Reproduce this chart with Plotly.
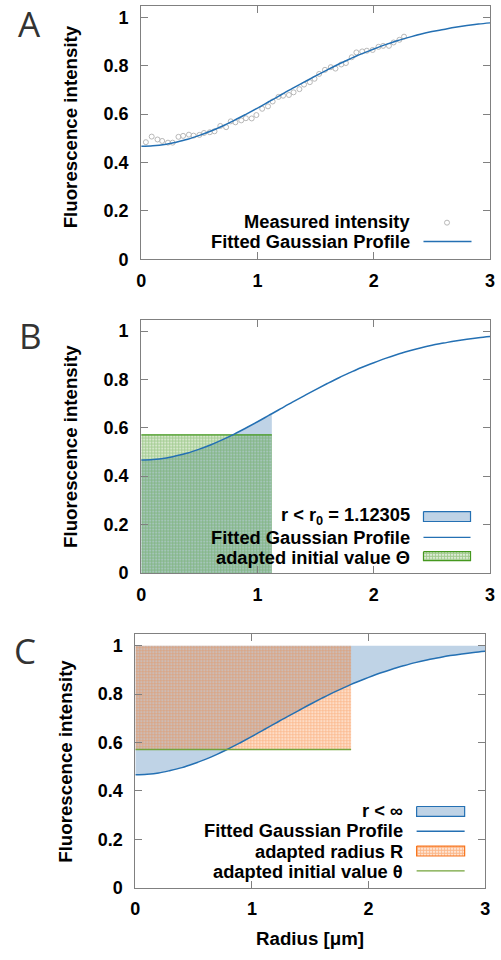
import plotly.graph_objects as go

# ---------------- data ----------------
radius = [0.0, 0.1, 0.2, 0.3, 0.4, 0.5, 0.6, 0.7, 0.8, 0.9, 1.0, 1.1, 1.12305,
          1.2, 1.3, 1.4, 1.5, 1.6, 1.7, 1.8, 1.85, 1.9, 2.0, 2.1, 2.2, 2.3,
          2.4, 2.5, 2.6, 2.7, 2.8, 2.9, 3.0]
fitted = [0.467, 0.469, 0.474, 0.484, 0.496, 0.512, 0.530, 0.551, 0.574, 0.599,
          0.625, 0.652, 0.658, 0.679, 0.706, 0.732, 0.758, 0.783, 0.807, 0.829,
          0.840, 0.850, 0.869, 0.887, 0.903, 0.917, 0.930, 0.941, 0.950, 0.959,
          0.966, 0.972, 0.977]

meas_r = [0.04, 0.09, 0.14, 0.18, 0.23, 0.27, 0.32, 0.36, 0.41, 0.45,
          0.50, 0.54, 0.59, 0.63, 0.68, 0.73, 0.77, 0.81, 0.86, 0.90,
          0.95, 0.99, 1.04, 1.09, 1.13, 1.18, 1.22, 1.27, 1.31, 1.36,
          1.40, 1.45, 1.49, 1.53, 1.58, 1.63, 1.67, 1.72, 1.76, 1.81,
          1.85, 1.90, 1.94, 1.99, 2.04, 2.08, 2.13, 2.17, 2.22, 2.26]
meas_i = [0.484, 0.507, 0.495, 0.489, 0.482, 0.482, 0.506, 0.510, 0.515, 0.511,
          0.514, 0.522, 0.525, 0.529, 0.551, 0.546, 0.570, 0.566, 0.574, 0.583,
          0.582, 0.596, 0.622, 0.632, 0.652, 0.671, 0.676, 0.679, 0.690, 0.703,
          0.722, 0.732, 0.746, 0.766, 0.783, 0.794, 0.788, 0.805, 0.811, 0.835,
          0.855, 0.859, 0.862, 0.865, 0.878, 0.882, 0.882, 0.896, 0.907, 0.920]

r0 = 1.12305          # integration limit in panel B
theta = 0.571         # adapted initial value
R_adapt = 1.85        # adapted radius in panel C

x_ticks = [0, 1, 2, 3]
y_ticks = [0, 0.2, 0.4, 0.6, 0.8, 1]

# ---------------- styles ----------------
W, H = 501, 960
BLUE = "#2470b3"
BLUE_FILL = "#bfd3e6"
GREEN = "#45981f"
GREEN_LINE = "#73a33a"
ORANGE = "#f7741c"
GRAY = "#808080"
FONT = "Liberation Sans"
PAT = dict(shape=".", size=3, solidity=0.72)


def px(x):
    return x / W


def py(y):
    return 1 - y / H


def pattern(color):
    return dict(PAT, fgcolor=color, bgcolor="rgba(0,0,0,0)")


fig = go.Figure()

# panel geometry in pixels: (left, right, top, bottom)
panels = {
    1: (139, 495, 6, 262),
    2: (139, 495, 323, 579),
    3: (133, 490, 641, 897),
}

# ---------------- Panel A ----------------
fig.add_trace(go.Scatter(x=meas_r, y=meas_i, mode="markers",
                         marker=dict(symbol="circle-open", size=5,
                                     color="#b8b8b8", line=dict(width=1)),
                         xaxis="x", yaxis="y", showlegend=False))
fig.add_trace(go.Scatter(x=radius, y=fitted, mode="lines",
                         line=dict(color=BLUE, width=1.5, shape="spline"),
                         xaxis="x", yaxis="y", showlegend=False))

# ---------------- Panel B ----------------
rb = [r for r in radius if r <= r0]
fb = fitted[:len(rb)]
fig.add_trace(go.Scatter(x=rb, y=fb, mode="lines", fill="tozeroy",
                         fillcolor=BLUE_FILL, line=dict(width=0),
                         xaxis="x2", yaxis="y2", showlegend=False))
fig.add_trace(go.Scatter(x=[0, 0, r0, r0], y=[0, theta, theta, 0],
                         mode="lines", fill="toself", line=dict(width=0),
                         fillcolor="rgba(0,0,0,0)", fillpattern=pattern(GREEN),
                         xaxis="x2", yaxis="y2", showlegend=False))
fig.add_trace(go.Scatter(x=[0, r0], y=[theta, theta], mode="lines",
                         line=dict(color=GREEN, width=1.2),
                         xaxis="x2", yaxis="y2", showlegend=False))
fig.add_trace(go.Scatter(x=radius, y=fitted, mode="lines",
                         line=dict(color=BLUE, width=1.5, shape="spline"),
                         xaxis="x2", yaxis="y2", showlegend=False))

# ---------------- Panel C ----------------
fig.add_trace(go.Scatter(x=radius + radius[::-1],
                         y=fitted + [1.0] * len(radius),
                         mode="lines", fill="toself", fillcolor=BLUE_FILL,
                         line=dict(width=0), xaxis="x3", yaxis="y3",
                         showlegend=False))
fig.add_trace(go.Scatter(x=[0, 0, R_adapt, R_adapt], y=[theta, 1, 1, theta],
                         mode="lines", fill="toself", line=dict(width=0),
                         fillcolor="rgba(0,0,0,0)", fillpattern=pattern(ORANGE),
                         xaxis="x3", yaxis="y3", showlegend=False))
fig.add_trace(go.Scatter(x=radius, y=fitted, mode="lines",
                         line=dict(color=BLUE, width=1.5, shape="spline"),
                         xaxis="x3", yaxis="y3", showlegend=False))
fig.add_trace(go.Scatter(x=[0, R_adapt], y=[theta, theta], mode="lines",
                         line=dict(color=GREEN_LINE, width=1.4),
                         xaxis="x3", yaxis="y3", showlegend=False))


# ---------------- legend keys (pixel overlay axis) ----------------
def key_box(x0, x1, yc, h, fill, border, pat=None):
    kw = dict(x=[x0, x1, x1, x0, x0],
              y=[yc - h / 2, yc - h / 2, yc + h / 2, yc + h / 2, yc - h / 2],
              mode="lines", fill="toself", line=dict(color=border, width=1.2),
              xaxis="x4", yaxis="y4", showlegend=False, hoverinfo="skip")
    if pat:
        kw["fillcolor"] = "rgba(0,0,0,0)"
        kw["fillpattern"] = pattern(pat)
    else:
        kw["fillcolor"] = fill
    fig.add_trace(go.Scatter(**kw))


def key_line(x0, x1, yc, color):
    fig.add_trace(go.Scatter(x=[x0, x1], y=[yc, yc], mode="lines",
                             line=dict(color=color, width=1.4),
                             xaxis="x4", yaxis="y4", showlegend=False,
                             hoverinfo="skip"))


# A
fig.add_trace(go.Scatter(x=[451], y=[225], mode="markers",
                         marker=dict(symbol="circle-open", size=5, color="#b8b8b8",
                                     line=dict(width=1)),
                         xaxis="x4", yaxis="y4", showlegend=False))
key_line(427, 476, 244, BLUE)
# B
key_box(427, 475, 522, 10, BLUE_FILL, BLUE)
key_line(427, 475, 543, BLUE)
key_box(427, 475, 562, 9, None, GREEN, pat=GREEN)
# C
key_box(420, 469, 820, 10, BLUE_FILL, BLUE)
key_line(420, 469, 840, BLUE)
key_box(420, 469, 860, 10, None, ORANGE, pat=ORANGE)
key_line(420, 469, 880, GREEN_LINE)

# ---------------- axes ----------------
tickfont = dict(family=FONT, size=18, color="black", weight="bold")
for i, (l, r, t, b) in panels.items():
    sx = "" if i == 1 else str(i)
    fig.update_layout(**{
        "xaxis" + sx: dict(domain=[px(l), px(r)], range=[0, 3], anchor="y" + sx,
                           showline=True, linecolor=GRAY, linewidth=1, mirror="ticks",
                           ticks="inside", ticklen=7, tickcolor=GRAY, tickwidth=1,
                           showgrid=False, zeroline=False, tickvals=x_ticks,
                           tickfont=tickfont, ticklabelstandoff=5, fixedrange=True),
        "yaxis" + sx: dict(domain=[py(b), py(t)], range=[0, 1.047], anchor="x" + sx,
                           showline=True, linecolor=GRAY, linewidth=1, mirror="ticks",
                           ticks="inside", ticklen=7, tickcolor=GRAY, tickwidth=1,
                           showgrid=False, zeroline=False, tickvals=y_ticks,
                           tickfont=tickfont, ticklabelstandoff=8, fixedrange=True),
    })

fig.update_layout(
    xaxis4=dict(domain=[0, 1], range=[0, W], visible=False, anchor="y4", fixedrange=True),
    yaxis4=dict(domain=[0, 1], range=[H, 0], visible=False, anchor="x4", fixedrange=True),
)

# ---------------- texts ----------------
ann = []
TS = 18.3


def text(x, y, s, size=TS, anchor="right", angle=0, family=FONT, weight="bold",
         color="black"):
    ann.append(dict(x=px(x), y=py(y), xref="paper", yref="paper", text=s,
                    showarrow=False, xanchor=anchor, yanchor="middle",
                    textangle=angle,
                    font=dict(family=family, size=size, color=color, weight=weight)))


# panel letters
text(25, 24, "A", size=35, anchor="center", family="Open Sans", weight="normal", color="#333333")
text(26, 339, "B", size=35, anchor="center", family="Open Sans", weight="normal", color="#333333")
text(20, 657, "C", size=35, anchor="center", family="Open Sans", weight="normal", color="#333333")

# y titles
text(67, 128, "Fluorescence intensity", size=18.7, anchor="center", angle=-90)
text(67, 451, "Fluorescence intensity", size=18.7, anchor="center", angle=-90)
text(62, 769, "Fluorescence intensity", size=18.7, anchor="center", angle=-90)

# x title
text(311, 948, "Radius [μm]", size=18.7, anchor="center")

# legends
text(415, 223.5, "Measured intensity")
text(415, 244, "Fitted Gaussian Profile")

text(415, 521, "r &lt; r<sub>0</sub> = 1.12305")
text(415, 543, "Fitted Gaussian Profile")
text(415, 563.5, "adapted initial value Θ")

text(408, 819, "r &lt; ∞")
text(408, 839.5, "Fitted Gaussian Profile")
text(408, 860, "adapted radius R")
text(408, 880.5, "adapted initial value θ")

fig.update_layout(width=W, height=H, margin=dict(l=0, r=0, t=0, b=0),
                  paper_bgcolor="white", plot_bgcolor="rgba(0,0,0,0)",
                  annotations=ann, showlegend=False)

fig.write_html("out.html")
